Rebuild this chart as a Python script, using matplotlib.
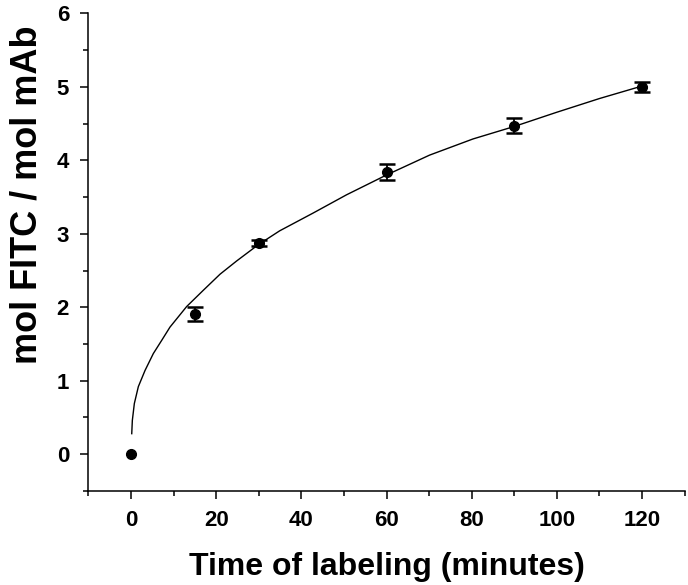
import numpy as np
import matplotlib.pyplot as plt

plt.rcParams['font.family'] = ['Liberation Sans', 'DejaVu Sans']
plt.rcParams['font.weight'] = 'bold'

# measured points (mean +/- error); no error bar at t=0
time_min = [0, 15, 30, 60, 90, 120]
fitc_per_mab = [0.0, 1.91, 2.88, 3.84, 4.47, 5.00]
err = [np.nan, 0.10, 0.04, 0.11, 0.10, 0.07]

# fitted curve
fit_x = [0.16, 0.3, 0.77, 1.71, 3.28, 5.23, 7.2, 9.14, 13.06, 16.95, 20.9, 24.8,
         29.85, 34.9, 42.7, 50.6, 60.0, 70.1, 80.3, 90.0, 99.8, 110.0, 120.0]
fit_y = [0.28, 0.46, 0.69, 0.92, 1.14, 1.37, 1.55, 1.73, 2.01, 2.23, 2.45, 2.63,
         2.85, 3.04, 3.28, 3.53, 3.80, 4.07, 4.29, 4.46, 4.65, 4.84, 5.01]

fig = plt.figure(figsize=(6.88, 5.85), dpi=100)
ax = fig.add_axes([0.1286, 0.1607, 0.8665, 0.8166])

ax.plot(fit_x, fit_y, color='black', lw=1.0)
ax.errorbar(time_min, fitc_per_mab, yerr=err, fmt='o', color='black',
            markersize=7, elinewidth=1.3, capsize=5.5, capthick=1.8)

ax.set_xlim(-10, 130)
ax.set_ylim(-0.5, 6)
ax.set_xticks([0, 20, 40, 60, 80, 100, 120])
ax.set_xticks([-10, 10, 30, 50, 70, 90, 110, 130], minor=True)
ax.set_yticks(range(0, 7))
ax.set_yticks([-0.5, 0.5, 1.5, 2.5, 3.5, 4.5, 5.5], minor=True)

for s in ['top', 'right']:
    ax.spines[s].set_visible(False)
for s in ['left', 'bottom']:
    ax.spines[s].set_linewidth(1.1)

ax.tick_params(which='major', length=6, width=1.1, labelsize=16, pad=8)
ax.tick_params(which='minor', length=3.5, width=1.1)

ax.set_xlabel('Time of labeling (minutes)', fontsize=23, fontweight='bold', labelpad=15)
ax.set_ylabel('mol FITC / mol mAb', fontsize=26, fontweight='bold')
ax.yaxis.set_label_coords(-0.073, 0.62)

fig.savefig('out.png', dpi=100)
